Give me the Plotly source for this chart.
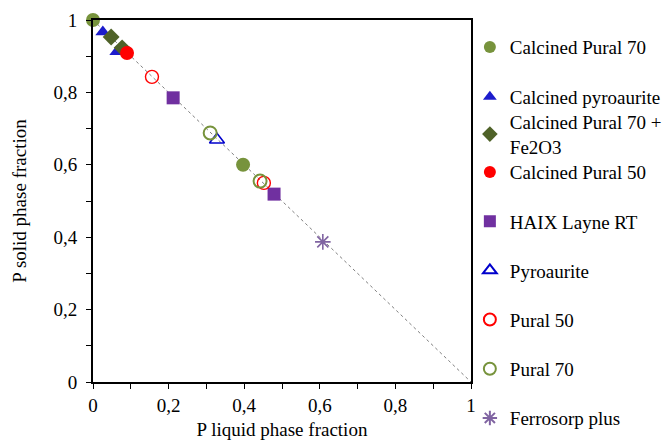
import plotly.graph_objects as go

# Data
series_names = ["Calcined Pural 70", "Calcined pyroaurite", "Calcined Pural 70 +<br>Fe2O3",
                "Calcined Pural 50", "HAIX Layne RT", "Pyroaurite", "Pural 50", "Pural 70",
                "Ferrosorp plus"]
calc_pural70_x = [0.0, 0.397]
calc_pural70_y = [1.0, 0.600]
calc_pyro_x = [0.026, 0.063]
calc_pyro_y = [0.967, 0.912]
calc_pural70_fe_x = [0.048, 0.077]
calc_pural70_fe_y = [0.953, 0.923]
calc_pural50_x = [0.090]
calc_pural50_y = [0.909]
haix_x = [0.212, 0.479]
haix_y = [0.785, 0.519]
pyro_x = [0.328]
pyro_y = [0.669]
pural50_x = [0.156, 0.452]
pural50_y = [0.843, 0.550]
pural70_x = [0.310, 0.442]
pural70_y = [0.688, 0.555]
ferro_x = [0.608]
ferro_y = [0.387]
ref_line_x = [0, 1]
ref_line_y = [1, 0]

FONT = "Liberation Serif"
FS = 19

fig = go.Figure()
fig.add_trace(go.Scatter(x=ref_line_x, y=ref_line_y, mode="lines",
                         line=dict(color="#7f7f7f", width=1, dash="dot"),
                         showlegend=False, hoverinfo="skip"))

styles = [
    (calc_pural70_x, calc_pural70_y, dict(symbol="circle", size=14, color="#77933C")),
    (calc_pyro_x, calc_pyro_y, dict(symbol="triangle-up", size=13, color="#1c1ccc")),
    (calc_pural70_fe_x, calc_pural70_fe_y, dict(symbol="diamond", size=13, color="#4F6228")),
    (calc_pural50_x, calc_pural50_y, dict(symbol="circle", size=14, color="#FF0000")),
    (haix_x, haix_y, dict(symbol="square", size=13, color="#7030A0")),
    (pyro_x, pyro_y, dict(symbol="triangle-up-open", size=13, color="#0000CC", line=dict(width=1.6))),
    (pural50_x, pural50_y, dict(symbol="circle-open", size=13, color="#FF0000", line=dict(width=1.4))),
    (pural70_x, pural70_y, dict(symbol="circle-open", size=13, color="#77933C", line=dict(width=2))),
    (ferro_x, ferro_y, dict(symbol="asterisk-open", size=13, color="#8064A2", line=dict(width=1.6, color="#8064A2"))),
]
legend_of = ["legend", "legend", "legend2", "legend3", "legend3", "legend3", "legend3", "legend3", "legend3"]
for i, (name, (xs, ys, mk)) in enumerate(zip(series_names, styles)):
    fig.add_trace(go.Scatter(x=xs, y=ys, mode="markers", name=name, marker=mk,
                             legendgroup=f"g{i}", legend=legend_of[i], cliponaxis=False))

axis_common = dict(range=[0, 1], showline=True, linecolor="black", linewidth=1.8,
                   mirror=True, ticks="outside", ticklen=5, tickwidth=1, tickcolor="black",
                   dtick=0.2, tick0=0, showgrid=False, zeroline=False, automargin=False,
                   minor=dict(dtick=0.1, ticks="outside", ticklen=5, tickcolor="black", tickwidth=1),
                   tickfont=dict(family=FONT, size=FS, color="black"))

leg_common = dict(xanchor="left", yanchor="middle", x=0.997, traceorder="grouped",
                  itemsizing="constant", font=dict(family=FONT, size=FS, color="black"),
                  bgcolor="rgba(0,0,0,0)")

fig.update_layout(
    width=667, height=440,
    margin=dict(l=93, r=196, t=20, b=58, autoexpand=False),
    paper_bgcolor="white", plot_bgcolor="white",
    separators=",.",
    font=dict(family=FONT, size=FS, color="black"),
    xaxis=dict(**axis_common, title=dict(text="P liquid phase fraction",
                                         font=dict(family=FONT, size=FS), standoff=10)),
    yaxis=dict(**axis_common, ticklabelstandoff=5,
               title=dict(text="P solid phase fraction",
                          font=dict(family=FONT, size=FS), standoff=22)),
    legend=dict(**leg_common, y=0.856, tracegroupgap=22),
    legend2=dict(**leg_common, y=0.684, tracegroupgap=0),
    legend3=dict(**leg_common, y=0.240, tracegroupgap=21.5),
    showlegend=True,
)

fig.write_html("out.html", config={"displayModeBar": False},
               post_script="document.body.style.margin='0px';")
